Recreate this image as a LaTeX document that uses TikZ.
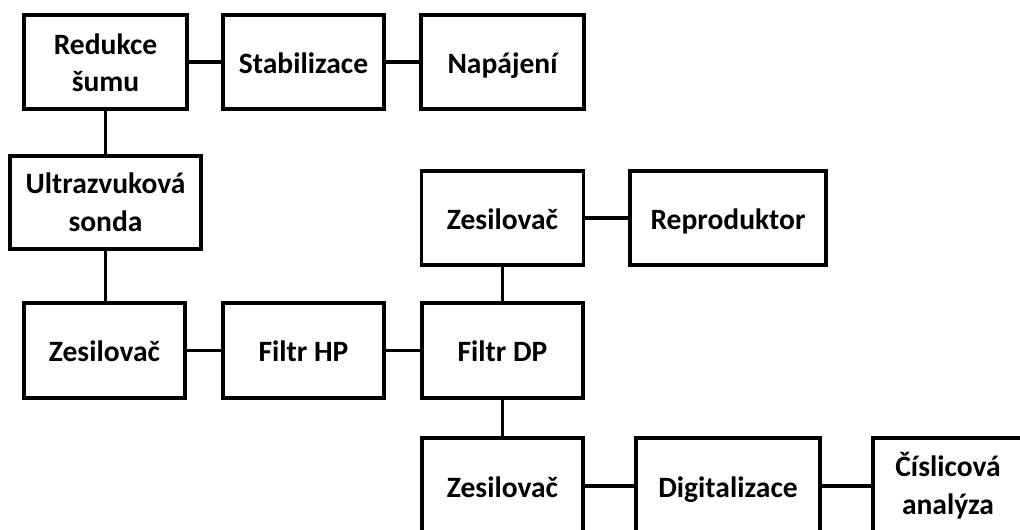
\documentclass[tikz,border=0pt]{standalone}
\usepackage{fontspec}
\setmainfont{Carlito}
\newcommand\boxstrut{\rule[-0.2\baselineskip]{0pt}{\baselineskip}}
\newcommand\twoline[3]{\raisebox{-#1}[0pt][0pt]{\begin{tabular}{@{}c@{}}#2\\#3\end{tabular}}}
\begin{document}
\begin{tikzpicture}[x=0.025cm,y=-0.025cm,
  base/.style={draw, line width=2.5pt, inner sep=0pt,
    font=\bfseries\fontsize{21}{27}\selectfont},
  blk/.style={base, execute at begin node=\boxstrut, execute at end node=\boxstrut},
  bw/.style={minimum width=#1*0.025cm},
  bh/.style={minimum height=#1*0.025cm},
  conn/.style={line width=2.5pt}]
\useasboundingbox (0,0) rectangle (1020,529);
\clip (0,0) rectangle (1020,529);
\node[base,bw=163,bh=94] (red) at (105.5,62) {\twoline{7.6pt}{Redukce}{šumu}};
\node[blk,bw=161,bh=94] (stab) at (303.5,62) {Stabilizace};
\node[blk,bw=163,bh=94] (nap) at (502.5,62) {Napájení};
\node[base,bw=191,bh=93] (ultra) at (105.5,202.5) {\twoline{6.6pt}{Ultrazvuková}{sonda}};
\node[blk,bw=162,bh=94] (zes2) at (502.5,218) {Zesilovač};
\node[blk,bw=196,bh=94] (rep) at (728,218) {Reproduktor};
\node[blk,bw=161,bh=95] (zes3) at (104.5,350.5) {Zesilovač};
\node[blk,bw=161,bh=95] (fhp) at (303.5,350.5) {Filtr HP};
\node[blk,bw=161,bh=95] (fdp) at (502.5,350.5) {Filtr DP};
\node[blk,bw=161,bh=96] (zes4) at (502.5,486) {Zesilovač};
\node[blk,bw=184,bh=96] (dig) at (728,486) {Digitalizace};
\node[base,bw=150,bh=96] (cis) at (948,486) {\twoline{6.6pt}{Číslicová}{analýza}};
\draw[conn] (red.east) -- (stab.west);
\draw[conn] (stab.east) -- (nap.west);
\draw[conn] (red.south) -- (ultra.north);
\draw[conn] (ultra.south) -- (ultra.south |- zes3.north);
\draw[conn] (zes3.east) -- (fhp.west);
\draw[conn] (fhp.east) -- (fdp.west);
\draw[conn] (zes2.south) -- (fdp.north);
\draw[conn] (zes2.east) -- (rep.west);
\draw[conn] (fdp.south) -- (zes4.north);
\draw[conn] (zes4.east) -- (dig.west);
\draw[conn] (dig.east) -- (cis.west);
\end{tikzpicture}
\end{document}
